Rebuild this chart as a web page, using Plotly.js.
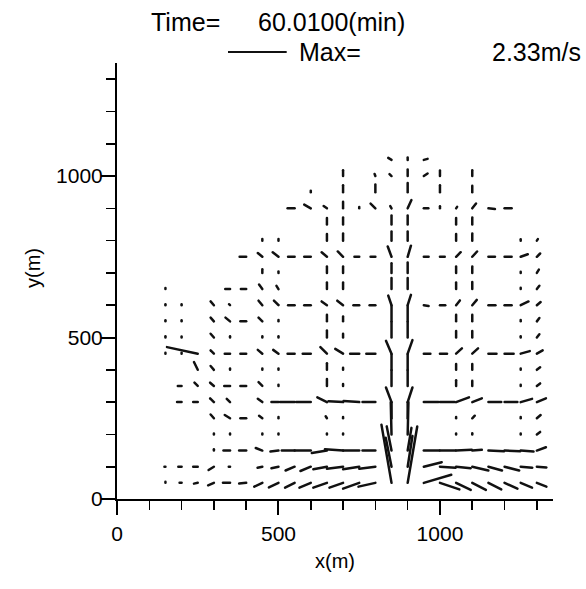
<!DOCTYPE html>
<html><head><meta charset="utf-8">
<script src="https://cdn.plot.ly/plotly-3.0.1.min.js"></script>
<style>
html,body{margin:0;padding:0;background:#fff;}
#chart{width:586px;height:589px;}
.js-line{stroke-linecap:round;}
</style>
</head><body><div id="chart"></div>
<script>
// grid rows (y, m) and, per row, node x positions (m) with velocity components (m/s)
const rowY = [1050,1000,950,900,850,800,750,700,650,600,550,500,450,400,350,300,250,200,150,100,50];
const nodeX = [
 [850,900,950],
 [700,800,850,900,950,1000,1100],
 [600,700,800,900,1000,1100],
 [550,600,650,700,750,800,850,900,950,1000,1050,1100,1150,1200],
 [650,700,850,900,1050,1100],
 [450,500,650,700,850,900,1050,1100,1250,1300],
 [400,450,500,550,600,650,700,750,800,850,900,950,1000,1050,1100,1150,1200,1250,1300],
 [450,500,650,700,850,900,1050,1100,1250,1300],
 [150,350,400,450,500,650,700,850,900,1050,1100,1250,1300],
 [150,200,300,350,450,500,550,600,650,700,750,800,850,900,950,1000,1050,1100,1150,1200,1250,1300],
 [150,200,300,350,400,450,500,650,700,850,900,1050,1100,1250,1300],
 [150,200,300,350,450,500,650,700,850,900,1050,1100,1250,1300],
 [150,200,250,300,350,400,450,500,550,600,650,700,750,800,850,900,950,1000,1050,1100,1150,1200,1250,1300],
 [250,300,350,450,500,650,700,850,900,1050,1100,1250,1300],
 [200,250,300,350,400,450,500,650,700,850,900,1050,1100,1250,1300],
 [200,250,300,350,450,500,550,600,650,700,750,800,850,900,950,1000,1050,1100,1150,1200,1250,1300],
 [300,350,400,450,500,650,700,850,900,1050,1100,1250,1300],
 [300,350,450,500,650,700,850,900,1050,1100,1250,1300],
 [300,350,400,450,500,550,600,650,700,750,800,850,900,950,1000,1050,1100,1150,1200,1250,1300],
 [150,200,250,300,350,450,500,550,600,650,700,750,800,850,900,950,1000,1050,1100,1150,1200,1250,1300],
 [150,200,250,300,350,400,450,500,550,600,650,700,750,800,850,900,950,1000,1050,1100,1150,1200,1250,1300]
];
const velU = [
 [-0.13,0,0.15],
 [0,-0.03,-0.08,0,0.15,0,0],
 [0,0,0,0,0,0],
 [-0.28,-0.26,-0.13,0,0,-0.19,-0.05,0.15,0.18,0,0.04,0.15,0.26,0.28],
 [0,0,0,0,0,0],
 [0,0,0,0,0,0,0,0,0,0.04],
 [-0.26,-0.18,-0.23,-0.26,-0.26,-0.21,-0.21,-0.19,-0.19,-0.15,0.13,0.19,0.19,0.18,0.19,0.26,0.28,0.28,0.13],
 [0,0,0,0,0,0,0,0,0,0.08],
 [0,-0.19,-0.21,-0.13,-0.08,0,0,0,0,0,0,0,0.10],
 [0,0,-0.13,-0.04,-0.15,-0.18,-0.26,-0.26,-0.21,-0.23,-0.23,-0.23,-0.13,0.13,0.19,0.21,0.15,0.18,0.28,0.28,0.31,0.15],
 [0,0,-0.13,-0.18,-0.23,-0.15,0,0,0,0,0,0,0,0,0.10],
 [0,0,-0.13,0,0,0,0,0,0,0,0,0,0,0.10],
 [0,0,-1.22,-0.13,-0.21,-0.23,-0.18,-0.21,-0.28,-0.32,-0.26,-0.31,-0.36,-0.36,-0.22,0.19,0.26,0.28,0.23,0.23,0.32,0.36,0.36,0.23],
 [-0.15,-0.13,0,0,0,0,0,0,0,0,0,0,0.13],
 [-0.15,-0.13,-0.15,-0.23,-0.23,-0.15,0,0,0,0,0,0,0,0,0.13],
 [-0.18,-0.18,-0.15,-0.13,-0.18,-0.28,-0.58,-0.58,-0.38,-0.58,-0.62,-0.51,-0.22,0.19,0.58,0.58,0.51,0.38,0.51,0.51,0.45,0.36],
 [-0.13,-0.21,-0.23,-0.13,0,-0.05,0,0,0,0,0.10,0,0.15],
 [0,0,0,0,0,0,-0.03,0.03,0,0,0,0.13],
 [0,-0.26,-0.28,-0.26,-0.32,-0.51,-0.64,-0.60,-0.72,-0.64,-0.51,-0.19,0.15,0.62,0.62,0.62,0.38,0.62,0.62,0.51,0.36],
 [-0.04,-0.13,-0.18,-0.21,-0.05,-0.19,-0.28,-0.36,-0.41,-0.54,-0.64,-0.64,-0.64,-0.23,0.19,0.71,0.62,0.58,0.64,0.54,0.58,0.46,0.38],
 [0,-0.08,-0.15,-0.23,-0.28,-0.28,-0.32,-0.38,-0.38,-0.45,-0.54,-0.54,-0.64,-0.67,-0.40,0.38,1.09,0.77,0.58,0.54,0.51,0.51,0.45,0.38]
];
const velV = [
 [0.08,0.09,0.04],
 [0.23,0.08,0.08,0.26,0.10,0.22,0.23],
 [0.06,0.28,0.31,0.36,0.28,0.26],
 [0,0.15,0.09,0.26,0.05,0.19,0.09,0.33,0,0.08,0.06,0.19,-0.03,0],
 [0.26,0.28,0.36,0.36,0.26,0.28],
 [0.06,0.06,0.26,0.28,0.36,0.36,0.26,0.28,0.05,0.06],
 [0,0.15,0.18,0,0,0.18,0.21,0,0,0.41,0.44,0,0,0.18,0.21,0,0,0.10,0.13],
 [0.15,0.06,0.26,0.26,0.38,0.41,0.26,0.26,0.05,0.13],
 [0.04,0,0,0.18,0.13,0.26,0.26,0.44,0.44,0.26,0.28,0.05,0.13],
 [0.04,0.04,0.15,0.04,0.18,0.18,0,0,0.15,0.18,0,0,0.38,0.41,-0.03,0,0.19,0.21,0,0,0.15,0.13],
 [0.04,0.04,0.15,0.15,0,0.15,0.05,0.26,0.19,0.62,0.62,0.26,0.26,0.05,0.13],
 [0.05,0.04,0.15,0.05,0.05,0.05,0.28,0.15,0.62,0.62,0.26,0.26,0.05,0.13],
 [0.04,0.04,0.26,0.13,0,0,0.15,0.15,0,0,0.26,0.19,0,0,0.51,0.54,0,0,0.21,0.21,0,0,0.10,0.13],
 [0.31,0.15,0.05,0.05,0.05,0.26,0.08,0.62,0.62,0.23,0.23,0.05,0.10],
 [0,0.13,0.13,0,0,0.15,0.05,0.28,0.08,0.62,0.62,0.23,0.21,0.05,0.10],
 [0,0,0.15,0.13,0.13,0,0,0,0.19,0.03,0.04,0,0.58,0.58,0,0,0.19,0.15,0,0,0.13,0.15],
 [0.15,0.13,0,0.10,0.05,0.08,0.05,0.64,0.64,0.05,0.10,0.05,0.13],
 [0.04,0.04,0.04,0.04,0.04,0.04,1.28,1.28,0.04,0.05,0.04,0.10],
 [0.05,0,0,0.10,-0.04,0,0,-0.10,0.05,0,0,0.96,0.90,0,0,0.03,0.03,-0.03,-0.03,-0.04,0.13],
 [0,0,0,-0.13,0,-0.04,-0.06,-0.15,-0.17,-0.10,-0.08,-0.10,-0.08,1.15,1.22,0.18,-0.04,-0.06,-0.15,-0.15,-0.15,-0.04,-0.03],
 [0.04,0,-0.03,-0.10,0,-0.03,-0.15,-0.18,-0.19,-0.19,-0.19,-0.19,-0.23,-0.15,2.31,2.24,0.32,-0.26,-0.28,-0.28,-0.26,-0.23,-0.19,-0.15]
];
const timeLabel = '60.0100(min)';
const maxSpeed = 2.33;           // m/s, reference vector
const vecScale = 78;             // metres of plot length per 1 m/s
const axisMax = 1350;

const segX = [], segY = [];
rowY.forEach((y, r) => {
  nodeX[r].forEach((x, i) => {
    segX.push(x, x + velU[r][i] * vecScale, null);
    segY.push(y, y + velV[r][i] * vecScale, null);
  });
});

const FONT = 'Liberation Sans, Arial, Helvetica, sans-serif';
const trace = {
  type: 'scatter', mode: 'lines', x: segX, y: segY,
  line: {color: '#111', width: 2.5, simplify: false},
  connectgaps: false, hoverinfo: 'skip', showlegend: false
};

const axisCommon = {
  range: [0, axisMax], tick0: 0, dtick: 500,
  ticks: 'outside', ticklen: 14, tickwidth: 2, tickcolor: '#000',
  showline: true, linewidth: 2, linecolor: '#000',
  showgrid: false, zeroline: false, fixedrange: true,
  minor: {tick0: 0, dtick: 100, ticks: 'outside', ticklen: 9, tickwidth: 1.6, tickcolor: '#000', showgrid: false},
  tickfont: {family: FONT, size: 21, color: '#000'}
};

const W = 436, H = 436, L = 117, T = 63;
const px = v => (v - L) / W;
const py = v => (T + H - v) / H;
const refLen = maxSpeed * vecScale / axisMax;
const titleFont = {family: FONT, size: 25, color: '#000'};
const labelFont = {family: FONT, size: 20, color: '#000'};

const layout = {
  width: 586, height: 589,
  margin: {l: L, r: 586 - L - W, t: T, b: 589 - T - H, pad: 0},
  paper_bgcolor: '#fff', plot_bgcolor: '#fff',
  xaxis: Object.assign({}, axisCommon, {ticklabelstandoff: 1, title: {text: 'x(m)', font: labelFont, standoff: 10}}),
  yaxis: Object.assign({}, axisCommon, {ticklabelstandoff: -6}),
  annotations: [
    {text: 'y(m)', xref: 'paper', yref: 'paper', x: px(33), y: py(268), xanchor: 'center', yanchor: 'middle', textangle: -90, showarrow: false, font: labelFont},
    {text: 'Time=', xref: 'paper', yref: 'paper', x: px(149), y: py(22), xanchor: 'left', yanchor: 'middle', showarrow: false, font: titleFont},
    {text: timeLabel, xref: 'paper', yref: 'paper', x: px(256), y: py(22), xanchor: 'left', yanchor: 'middle', showarrow: false, font: titleFont},
    {text: 'Max=', xref: 'paper', yref: 'paper', x: px(297), y: py(52), xanchor: 'left', yanchor: 'middle', showarrow: false, font: titleFont},
    {text: maxSpeed.toFixed(2) + 'm/s', xref: 'paper', yref: 'paper', x: px(583), y: py(52), xanchor: 'right', yanchor: 'middle', showarrow: false, font: titleFont}
  ],
  shapes: [
    {type: 'line', xref: 'paper', yref: 'paper', x0: px(228), x1: px(228) + refLen, y0: py(52), y1: py(52), line: {color: '#111', width: 2}}
  ]
};

Plotly.newPlot('chart', [trace], layout, {staticPlot: true, displayModeBar: false});
</script>
</body></html>
